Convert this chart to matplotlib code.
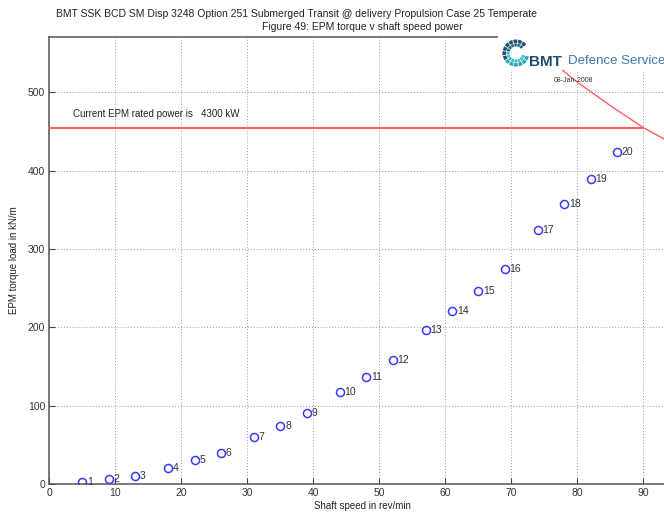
import matplotlib
matplotlib.use("Agg")
import matplotlib.pyplot as plt
from matplotlib.patches import Rectangle, Wedge

plt.rcParams['font.family'] = ['Liberation Sans', 'DejaVu Sans']

# ---- data ----
point_ids = [str(i) for i in range(1, 21)]
shaft_speed = [5, 9, 13, 18, 22, 26, 31, 35, 39, 44, 48, 52, 57, 61, 65, 69, 74, 78, 82, 86]
epm_torque = [2, 6, 10, 20, 30, 40, 60, 74, 90, 118, 137, 158, 196, 221, 247, 275, 324, 357, 389, 424]

rated_speed = [0, 90]
rated_torque = [455, 455]

power_speed = [76, 80, 85, 90, 95]
power_torque = [540, 513, 483, 455, 432]

x_ticks = [0, 10, 20, 30, 40, 50, 60, 70, 80, 90]
y_ticks = [0, 100, 200, 300, 400, 500]

title1 = "BMT SSK BCD SM Disp 3248 Option 251 Submerged Transit @ delivery Propulsion Case 25 Temperate"
title2 = "Figure 49: EPM torque v shaft speed power"
note = "Current EPM rated power is   4300 kW"
date_text = "08-Jan-2008"

W, H = 664, 514
fig = plt.figure(figsize=(W / 100, H / 100), dpi=100)
fig.patch.set_facecolor('white')

x0, x1 = 49.3, 676.3
y0, y1 = 484.0, 36.7
ax = fig.add_axes([x0 / W, (H - y0) / H, (x1 - x0) / W, (y0 - y1) / H])
ax.set_xlim(0, 95)
ax.set_ylim(0, 571)
ax.set_xticks(x_ticks)
ax.set_yticks(y_ticks)
ax.tick_params(direction='in', length=4, width=0.8, colors='#444444',
               labelsize=7.5, labelcolor='#333333', pad=3)
for s in ax.spines.values():
    s.set_color('#555555')
    s.set_linewidth(1.1)
ax.grid(True, color='#999999', linestyle=(0, (1, 2)), linewidth=0.7)
ax.set_axisbelow(True)

ax.plot(rated_speed, rated_torque, color='#ff6060', lw=1.5, zorder=3)
ax.plot(power_speed, power_torque, color='#ff6060', lw=1.0, zorder=3)

ax.plot(shaft_speed, epm_torque, linestyle='none', marker='o', ms=5.8,
        mfc='none', mec='#3a3aff', mew=1.1, zorder=4)
for xs, ys, lab in zip(shaft_speed, epm_torque, point_ids):
    ax.annotate(lab, (xs, ys), xytext=(5, 0), textcoords='offset pixels',
                ha='left', va='center', fontsize=7.5, color='#333333')

ax.text(3.6, 472, note, fontsize=7, color='#222222', va='center', ha='left')

ax.set_xlabel("Shaft speed in rev/min", fontsize=7, color='#222222', labelpad=2)
ax.set_ylabel("EPM torque load in kN/m", fontsize=7, color='#222222', labelpad=6)

# ---- overlay for titles and logo (pixel coordinates) ----
ov = fig.add_axes([0, 0, 1, 1], zorder=10)
ov.set_xlim(0, W)
ov.set_ylim(H, 0)
ov.axis('off')
ov.patch.set_alpha(0)

ov.text(297, 14, title1, ha='center', va='center', fontsize=7.5, color='#222222')
ov.text(362, 26.5, title2, ha='center', va='center', fontsize=7.5, color='#222222')

ov.add_patch(Rectangle((498, 32), 170, 38, facecolor='white', edgecolor='none'))

# logo ring
cx, cy = 516, 53
angles = list(range(40, 340, 22))
for i, a in enumerate(angles):
    col_outer = '#1f4f72' if a < 200 else '#2aa6b6'
    col_inner = '#24617f' if a < 170 else '#35c0c8'
    ov.add_patch(Wedge((cx, cy), 13.5, -a - 18, -a, width=3.5,
                       facecolor=col_outer, edgecolor='none'))
    ov.add_patch(Wedge((cx, cy), 9.5, -a - 18, -a, width=3.0,
                       facecolor=col_inner, edgecolor='none'))

ov.text(529, 61.5, "BMT", fontsize=11, fontweight='bold', color='#1e4d70',
        ha='left', va='center')
ov.text(568, 61.5, "Defence Service", fontsize=9.5, color='#3d78a6',
        ha='left', va='center')
ov.text(574, 80, date_text, fontsize=5, color='#333333', ha='center', va='center')

fig.savefig("out.png", dpi=100)
